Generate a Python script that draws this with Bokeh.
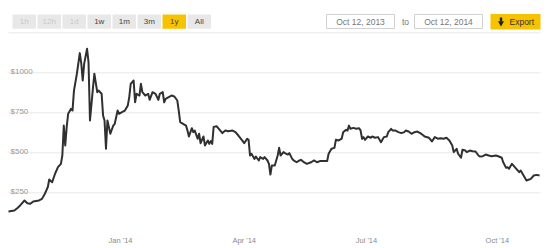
from bokeh.plotting import figure
from bokeh.models import Range1d
from bokeh.core.properties import value
from bokeh.embed import file_html
from bokeh.resources import INLINE

# ---- data (day offset from Oct 12, 2013 ; price in USD) ----
days = [0, 4, 6, 8, 11, 13, 15, 17, 21, 23, 25, 27, 28, 30, 32, 34, 36, 37, 38, 39,
        40, 41, 43, 44, 45, 47, 49, 50, 51, 52, 54, 55, 56, 58, 59, 61, 62, 64, 65, 66,
        67, 68, 70, 72, 73, 75, 76, 78, 80, 82, 83, 84, 86, 87, 88, 90, 91, 92, 94, 96,
        97, 99, 101, 103, 104, 106, 107, 108, 111, 112, 114, 116, 117, 118, 120, 122, 123, 124, 126, 127,
        128, 130, 131, 132, 134, 135, 137, 138, 139, 140, 141, 143, 144, 147, 149, 151, 154, 156, 158, 161,
        162, 164, 165, 166, 167, 169, 170, 172, 173, 175, 176, 178, 179, 180, 181, 183, 185, 186, 187, 189,
        190, 192, 193, 195, 196, 198, 200, 201, 203, 205, 208, 210, 212, 214, 219, 220, 222, 224, 225, 227,
        229, 230, 232, 233, 234, 235, 237, 239, 241, 242, 243, 244, 245, 247, 249, 250, 252, 254, 256, 258,
        260, 261, 263, 264, 266, 268, 270, 272, 273, 275, 277, 279, 281, 283, 285, 286, 289, 291, 293, 295,
        297, 299, 301, 303, 305, 306, 308, 309, 311, 312, 314, 315, 317, 319, 321, 323, 324, 326, 328, 330,
        332, 335, 337, 339, 340, 342, 343, 344, 346, 348, 349, 351, 352, 354, 356, 359, 361, 363, 365]
prices = [133, 139, 154, 171, 202, 185, 181, 196, 202, 212, 244, 285, 333, 316, 369, 410, 431, 483, 670, 546,
          660, 744, 775, 764, 889, 994, 1123, 1060, 952, 1056, 1150, 1066, 702, 900, 994, 879, 889, 869, 733, 702,
          525, 702, 619, 670, 681, 764, 744, 754, 764, 796, 848, 931, 952, 816, 869, 858, 931, 879, 858, 869,
          831, 879, 869, 831, 869, 879, 816, 837, 852, 858, 852, 827, 764, 691, 681, 670, 639, 602, 654, 629,
          639, 588, 619, 560, 602, 546, 577, 556, 573, 556, 662, 666, 656, 623, 639, 635, 639, 629, 608, 573,
          560, 588, 581, 483, 494, 462, 477, 452, 473, 462, 473, 452, 431, 364, 421, 421, 483, 531, 483, 504,
          498, 489, 498, 462, 452, 441, 452, 456, 441, 431, 441, 452, 441, 448, 448, 494, 525, 531, 581, 577,
          588, 629, 644, 639, 670, 650, 656, 650, 654, 639, 588, 598, 581, 602, 594, 602, 594, 598, 566, 598,
          602, 629, 650, 639, 639, 629, 623, 629, 639, 633, 619, 629, 633, 623, 610, 602, 594, 571, 598, 588,
          591, 588, 594, 577, 546, 504, 525, 494, 469, 519, 514, 504, 514, 510, 508, 483, 477, 479, 489, 483,
          479, 483, 477, 469, 441, 406, 410, 400, 431, 410, 400, 379, 389, 358, 327, 337, 358, 362, 358]

y_ticks = [250, 500, 750, 1000, 1250]
y_tick_labels = ["$250", "$500", "$750", "$1000"]
x_tick_labels = ["Jan '14", "Apr '14", "Jul '14", "Oct '14"]
x_tick_days = [77, 162, 246, 336]

range_buttons = ["1h", "12h", "1d", "1w", "1m", "3m", "1y", "All"]
disabled_buttons = ["1h", "12h", "1d"]
selected_button = "1y"
date_from = "Oct 12, 2013"
date_to = "Oct 12, 2014"

# ---- layout helpers (pixel -> data) ----
W, H = 550, 248
ORIGIN_X = 8.0
PX_PER_DAY = 1.455
ZERO_Y = 232.3
PX_PER_USD = 40.0 / 250.0


def sx(px):
    return (px - ORIGIN_X) / PX_PER_DAY


def sy(py):
    return (ZERO_Y - py) / PX_PER_USD


FONT = value("Liberation Sans")

p = figure(width=W, height=H, output_backend="svg", toolbar_location=None,
           x_range=Range1d(sx(0), sx(W)), y_range=Range1d(sy(H), sy(0)),
           x_axis_location=None, y_axis_location=None, min_border=0)
p.min_border_left = p.min_border_right = p.min_border_top = p.min_border_bottom = 0
p.grid.visible = False
p.outline_line_color = None
p.background_fill_color = "white"
p.border_fill_color = "white"

# grid lines
n = len(y_ticks)
p.segment(x0=[days[0]] * n, x1=[sx(540)] * n, y0=y_ticks, y1=y_ticks,
          line_color="#e8e8e8", line_width=1)

# y labels
p.text(x=[days[0]] * len(y_tick_labels), y=y_ticks[:len(y_tick_labels)], text=y_tick_labels,
       x_offset=2, y_offset=-1.5, text_align="left", text_baseline="alphabetic",
       text_font=FONT, text_font_size="8px", text_color="#9a9a9a")

# x labels
p.text(x=x_tick_days, y=[sy(240)] * len(x_tick_days), text=x_tick_labels,
       text_align="center", text_baseline="middle",
       text_font=FONT, text_font_size="7.5px", text_color="#8a8a8a")

# price line
p.line(days, prices, line_color="#303030", line_width=2, line_join="round")

# range buttons
btn_left = [12 + 25 * i for i in range(len(range_buttons))]
p.quad(left=[sx(l) for l in btn_left], right=[sx(l + 23.5) for l in btn_left],
       top=[sy(14)] * len(btn_left), bottom=[sy(28.3)] * len(btn_left),
       fill_color=["#f7c300" if b == selected_button else "#e8e8e8" for b in range_buttons],
       line_color=None)
p.text(x=[sx(l + 11.75) for l in btn_left], y=[sy(21.3)] * len(btn_left), text=range_buttons,
       text_align="center", text_baseline="middle", text_font=FONT, text_font_size="8px",
       text_color=["#c8c8c8" if b in disabled_buttons else "#444444" for b in range_buttons])

# date inputs
p.quad(left=[sx(326), sx(414)], right=[sx(394), sx(482)], top=[sy(14)] * 2, bottom=[sy(28)] * 2,
       fill_color="white", line_color="#d0d0d0", line_width=1)
p.text(x=[sx(360), sx(448), sx(405)], y=[sy(21.3)] * 3, text=[date_from, date_to, "to"],
       text_align="center", text_baseline="middle", text_font=FONT, text_font_size="8.5px",
       text_color="#777777")

# export button
p.quad(left=[sx(490)], right=[sx(540)], top=[sy(13.5)], bottom=[sy(29)], fill_color="#f7c300", line_color=None)
p.quad(left=[sx(499.3)], right=[sx(501.7)], top=[sy(17)], bottom=[sy(21)], fill_color="#222222", line_color=None)
p.scatter(x=[sx(500.5)], y=[sy(22.5)], marker="inverted_triangle", size=6,
          fill_color="#222222", line_color=None)
p.text(x=[sx(509)], y=[sy(21.3)], text=["Export"], text_align="left", text_baseline="middle",
       text_font=FONT, text_font_size="8.5px", text_color="#333333")

open("out.html", "w").write(file_html(p, INLINE))
